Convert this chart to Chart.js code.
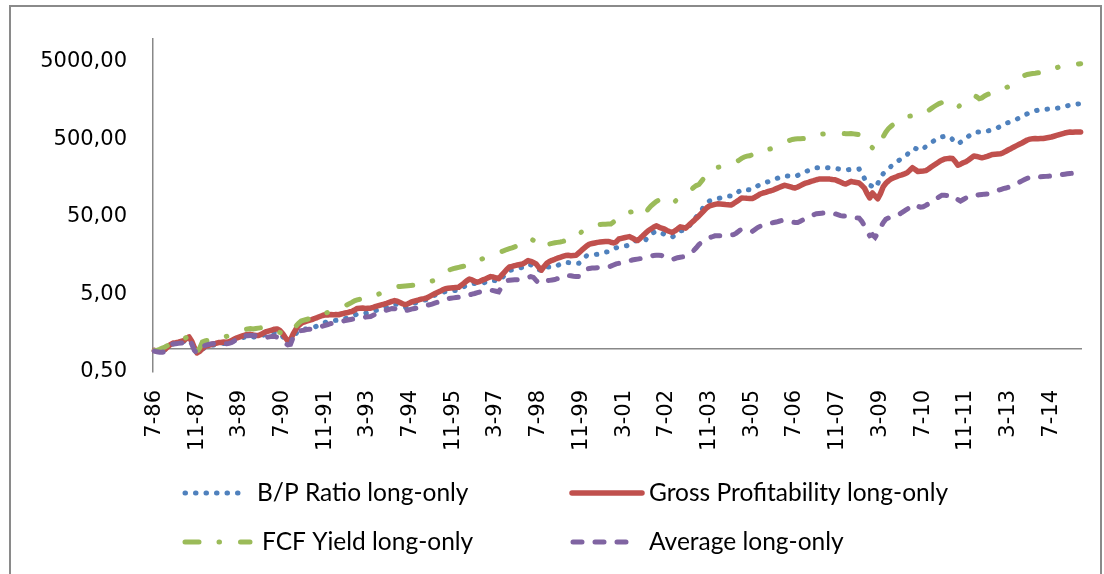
<!DOCTYPE html>
<html>
<head>
<meta charset="utf-8">
<script src="https://cdn.jsdelivr.net/npm/chart.js@4.4.1/dist/chart.umd.min.js"></script>
<style>
  html, body { margin: 0; padding: 0; background: #fff; }
</style>
</head>
<body>
<canvas id="chart" width="1104" height="574"></canvas>
<script>
// Monthly growth of 1, Jul 1986 - Jun 2015 (one row = Jul..Jun)
const startYear = 1986;
const startMonth = 7;
const monthCount = 348;

const tickLabels = ['7-86', '11-87', '3-89', '7-90', '11-91', '3-93', '7-94', '11-95', '3-97', '7-98', '11-99',
  '3-01', '7-02', '11-03', '3-05', '7-06', '11-07', '3-09', '7-10', '11-11', '3-13', '7-14'];
const yTicks = [0.5, 1, 5, 50, 500, 5000];

const bpRatio = [
  0.95, 0.93, 0.93, 0.95, 0.97, 1.03, 1.10, 1.15, 1.16, 1.18, 1.21, 1.24,
  1.31, 1.37, 1.22, 1.02, 0.88, 0.91, 0.98, 1.04, 1.07, 1.09, 1.11, 1.13,
  1.15, 1.16, 1.17, 1.16, 1.18, 1.22, 1.27, 1.31, 1.35, 1.38, 1.42, 1.44,
  1.45, 1.42, 1.40, 1.40, 1.44, 1.50, 1.55, 1.58, 1.60, 1.62, 1.63, 1.56,
  1.44, 1.30, 1.20, 1.22, 1.40, 1.56, 1.68, 1.74, 1.78, 1.80, 1.82, 1.85,
  1.90, 1.96, 2.02, 2.10, 2.18, 2.24, 2.30, 2.30, 2.32, 2.33, 2.38, 2.43,
  2.48, 2.55, 2.62, 2.70, 2.80, 2.84, 2.88, 2.86, 2.90, 2.94, 3.02, 3.12,
  3.20, 3.28, 3.36, 3.45, 3.56, 3.68, 3.78, 3.72, 3.60, 3.48, 3.38, 3.50,
  3.65, 3.80, 3.92, 4.02, 4.12, 4.20, 4.30, 4.48, 4.68, 4.88, 5.06, 5.25,
  5.30, 5.45, 5.50, 5.55, 5.60, 5.65, 5.70, 6.00, 6.30, 6.60, 6.80, 6.90,
  6.95, 7.00, 6.90, 7.00, 7.20, 7.40, 7.60, 7.60, 7.50, 7.40, 8.00, 8.70,
  9.50, 10.2, 10.4, 10.6, 10.8, 11.0, 11.2, 11.7, 12.3, 12.1, 11.7, 11.3,
  10.5, 10.0, 10.8, 11.3, 11.3, 11.3, 11.3, 11.8, 12.3, 12.7, 13.0, 12.9,
  12.8, 12.7, 12.6, 12.6, 13.6, 14.8, 15.9, 16.1, 16.3, 16.4, 16.5, 16.8,
  17.2, 17.6, 17.8, 18.5, 19.3, 20.0, 20.4, 20.8, 21.1, 21.3, 22.0, 23.5,
  24.5, 24.8, 25.0, 25.1, 25.2, 27.5, 29.5, 31.5, 33.0, 32.0, 31.0, 30.0,
  29.0, 28.0, 27.5, 29.0, 31.0, 33.0, 33.5, 34.0, 37.0, 40.5, 45.0, 50.0,
  55, 61, 70, 77, 80.5, 82, 84, 86, 88, 90, 92, 93,
  93, 94, 100, 107, 113, 114, 113, 112, 113, 119, 126, 132,
  135, 139, 143, 147, 151, 156, 161, 166, 170, 169, 168, 167,
  166, 172, 179, 186, 193, 198, 204, 210, 216, 216, 216, 216,
  216, 215, 213, 211, 209, 207, 206, 205, 204, 205, 206, 207,
  208, 185, 157, 140, 129, 124, 118, 135, 160, 180, 196, 211,
  225, 240, 256, 270, 285, 300, 320, 345, 375, 385, 370, 360,
  380, 405, 430, 455, 480, 505, 530, 540, 548, 553, 540, 500,
  460, 437, 460, 490, 527, 550, 580, 605, 623, 623, 623, 630,
  640, 655, 670, 685, 710, 740, 770, 805, 830, 855, 880, 910,
  950, 990, 1030, 1070, 1100, 1140, 1170, 1195, 1205, 1215, 1225, 1235,
  1245, 1255, 1265, 1275, 1300, 1330, 1360, 1385, 1400, 1420, 1435, 1450
];

const grossProfitability = [
  0.95, 0.93, 0.94, 0.96, 0.98, 1.05, 1.13, 1.18, 1.19, 1.21, 1.24, 1.27,
  1.35, 1.42, 1.25, 1.03, 0.88, 0.92, 1.00, 1.07, 1.10, 1.12, 1.15, 1.17,
  1.20, 1.20, 1.22, 1.21, 1.23, 1.28, 1.33, 1.38, 1.42, 1.46, 1.50, 1.52,
  1.53, 1.50, 1.48, 1.48, 1.53, 1.60, 1.66, 1.70, 1.74, 1.78, 1.80, 1.72,
  1.58, 1.40, 1.26, 1.30, 1.55, 1.77, 1.98, 2.12, 2.20, 2.27, 2.32, 2.37,
  2.45, 2.52, 2.60, 2.68, 2.74, 2.72, 2.75, 2.73, 2.76, 2.74, 2.80, 2.86,
  2.90, 2.97, 3.02, 3.15, 3.30, 3.33, 3.35, 3.30, 3.32, 3.33, 3.42, 3.52,
  3.60, 3.68, 3.76, 3.85, 3.96, 4.08, 4.17, 4.10, 3.95, 3.80, 3.68, 3.80,
  3.95, 4.08, 4.17, 4.25, 4.35, 4.42, 4.50, 4.70, 4.90, 5.10, 5.30, 5.50,
  5.75, 5.94, 6.00, 6.05, 6.10, 6.15, 6.20, 6.60, 7.00, 7.50, 7.90, 7.70,
  7.40, 7.20, 7.40, 7.70, 7.90, 8.20, 8.50, 8.40, 8.20, 8.00, 8.80, 9.60,
  10.5, 11.3, 11.5, 11.8, 12.0, 12.2, 12.4, 13.0, 13.7, 13.4, 12.9, 12.4,
  11.2, 10.3, 11.5, 12.6, 13.3, 13.8, 14.2, 14.7, 15.1, 15.5, 15.9, 16.0,
  15.8, 15.9, 16.0, 17.2, 18.5, 19.8, 21.2, 22.3, 22.7, 23.1, 23.5, 23.7,
  23.9, 24.1, 24.2, 23.6, 23.1, 23.8, 26.0, 26.5, 27.0, 27.5, 27.9, 26.8,
  25.6, 24.8, 26.5, 28.6, 31.0, 33.2, 35.0, 36.8, 38.4, 37.0, 35.8, 35.0,
  33.5, 32.5, 31.6, 33.0, 35.0, 37.3, 36.6, 35.9, 38.5, 41.5, 44.5, 48.0,
  51.5, 56, 61, 66, 69.5, 71, 72.5, 73.9, 73.5, 73, 72.3, 71.8,
  71.1, 74.5, 78.5, 83, 88, 87.5, 87, 86.8, 86.5, 90, 94.5, 99,
  102, 104, 107, 109, 112, 116, 120, 124, 128, 126, 123, 120,
  118, 122, 127, 132, 137, 140, 144, 147, 151, 154, 155, 154,
  155, 154, 152, 151, 146, 141, 136, 133, 138, 144, 141, 139,
  137, 128, 118, 100, 88, 102, 93, 86, 100, 122, 136, 146,
  155, 160, 165, 171, 175, 180, 186, 200, 216, 205, 193, 195,
  196, 198, 208, 220, 232, 245, 258, 270, 280, 283, 286, 284,
  260, 232, 240, 250, 258, 272, 288, 305, 302, 296, 290, 296,
  303, 312, 320, 322, 324, 326, 338, 352, 368, 383, 400, 416,
  433, 450, 470, 492, 505, 510, 514, 512, 514, 515, 522, 530,
  538, 550, 563, 577, 591, 605, 615, 623, 620, 625, 622, 625
];

const fcfYield = [
  0.95, 0.95, 0.98, 1.02, 1.05, 1.10, 1.14, 1.18, 1.20, 1.24, 1.28, 1.33,
  1.40, 1.38, 1.20, 0.98, 0.92, 1.02, 1.22, 1.26, 1.28, 1.30, 1.30, 1.32,
  1.34, 1.36, 1.40, 1.44, 1.48, 1.52, 1.56, 1.60, 1.65, 1.70, 1.76, 1.80,
  1.82, 1.80, 1.82, 1.84, 1.86, 1.83, 1.80, 1.77, 1.75, 1.72, 1.68, 1.62,
  1.56, 1.52, 1.50, 1.55, 1.75, 1.95, 2.12, 2.27, 2.33, 2.38, 2.43, 2.48,
  2.52, 2.56, 2.60, 2.70, 2.85, 2.95, 3.05, 3.12, 3.20, 3.25, 3.35, 3.50,
  3.65, 3.80, 3.95, 4.15, 4.25, 4.35, 4.45, 4.55, 4.65, 4.75, 4.82, 4.90,
  5.05, 5.25, 5.45, 5.65, 5.85, 6.05, 6.20, 6.30, 6.35, 6.40, 6.45, 6.50,
  6.55, 6.60, 6.60, 6.75, 6.90, 7.05, 7.20, 7.35, 7.45, 7.60, 8.10, 8.80,
  9.40, 9.90, 10.2, 10.5, 10.8, 11.0, 11.2, 11.4, 11.6, 11.8, 11.9, 12.5,
  13.0, 13.5, 14.0, 14.5, 15.0, 15.3, 15.8, 16.3, 16.8, 17.4, 17.9, 18.4,
  19.0, 19.5, 20.0, 20.6, 21.2, 21.6, 22.0, 22.5, 24.5, 26.0, 25.0, 22.5,
  20.5, 20.0, 21.0, 21.8, 22.4, 22.8, 23.2, 23.5, 23.8, 24.2, 24.8, 25.4,
  25.8, 26.3, 28.0, 30.0, 32.0, 34.0, 36.5, 38.4, 39.0, 39.5, 39.8, 40.0,
  40.2, 40.4, 40.5, 40.6, 43.0, 46.0, 49.0, 51.5, 54.0, 56.0, 57.5, 58.5,
  59.6, 57.0, 53.0, 51.5, 57.0, 63.0, 69.0, 74.0, 79.0, 83.0, 85.0, 84.0,
  80.0, 76.0, 74.0, 79.0, 85.0, 88.0, 93.0, 99.0, 105, 112, 120, 127,
  131, 145, 160, 175, 190, 202, 212, 218, 222, 226, 229, 232,
  236, 240, 255, 270, 285, 297, 305, 308, 318, 330, 343, 355,
  362, 368, 372, 380, 392, 405, 420, 437, 455, 472, 487, 500,
  506, 510, 512, 513, 514, 525, 540, 555, 568, 578, 585, 589,
  591, 595, 598, 600, 600, 598, 596, 594, 591, 598, 590, 582,
  575, 565, 540, 480, 420, 390, 360, 380, 455, 540, 620, 690,
  740, 790, 840, 880, 920, 960, 985, 1000, 1010, 995, 980, 1040,
  1080, 1120, 1180, 1250, 1320, 1390, 1450, 1500, 1520, 1530, 1520, 1480,
  1380, 1300, 1400, 1520, 1640, 1760, 1840, 1860, 1780, 1680, 1720, 1820,
  1900, 1950, 1980, 2050, 2120, 2200, 2260, 2330, 2400, 2520, 2700, 2900,
  3050, 3200, 3350, 3450, 3500, 3550, 3580, 3620, 3650, 3700, 3750, 3850,
  3950, 4050, 4200, 4350, 4500, 4600, 4650, 4700, 4700, 4750, 4700, 4750
];

const averageLongOnly = [
  0.93, 0.91, 0.90, 0.90, 0.92, 1.02, 1.12, 1.15, 1.16, 1.17, 1.18, 1.20,
  1.26, 1.32, 1.15, 0.95, 0.88, 0.95, 1.05, 1.10, 1.13, 1.15, 1.16, 1.17,
  1.15, 1.14, 1.15, 1.16, 1.17, 1.20, 1.26, 1.36, 1.44, 1.46, 1.47, 1.47,
  1.48, 1.48, 1.46, 1.43, 1.40, 1.38, 1.40, 1.42, 1.44, 1.45, 1.40, 1.30,
  1.25, 1.18, 1.12, 1.14, 1.40, 1.60, 1.68, 1.71, 1.73, 1.76, 1.78, 1.80,
  1.82, 1.85, 1.90, 1.95, 2.00, 2.05, 2.10, 2.14, 2.18, 2.22, 2.25, 2.28,
  2.32, 2.36, 2.40, 2.43, 2.47, 2.50, 2.53, 2.55, 2.58, 2.60, 2.70, 2.80,
  2.90, 2.98, 3.06, 3.14, 3.22, 3.30, 3.28, 3.20, 3.05, 3.00, 3.08, 3.15,
  3.22, 3.28, 3.33, 3.36, 3.45, 3.55, 3.62, 3.68, 3.76, 3.86, 3.96, 4.05,
  4.10, 4.25, 4.40, 4.48, 4.52, 4.56, 4.60, 4.64, 4.68, 4.80, 4.93, 5.05,
  5.15, 5.28, 5.40, 5.50, 5.60, 5.68, 5.70, 5.60, 5.50, 5.40, 6.20, 7.00,
  7.50, 7.65, 7.70, 7.72, 7.75, 7.78, 7.90, 8.10, 8.30, 8.50, 8.30, 7.60,
  7.00, 6.90, 7.20, 7.50, 7.60, 7.70, 7.80, 8.00, 8.30, 8.60, 8.85, 8.80,
  8.70, 8.60, 8.55, 8.50, 9.20, 10.0, 10.6, 10.85, 10.95, 11.0, 11.1, 11.2,
  11.25, 11.3, 11.3, 11.6, 12.0, 12.4, 12.6, 12.8, 13.0, 13.3, 13.6, 13.9,
  14.1, 14.3, 14.5, 14.8, 15.1, 15.4, 15.7, 15.9, 16.0, 16.0, 15.9, 15.5,
  15.0, 14.5, 14.1, 14.5, 14.9, 15.1, 15.3, 16.0, 16.8, 17.6, 18.4, 20.0,
  22.0, 23.6, 25.0, 26.0, 27.0, 27.8, 28.6, 28.7, 28.7, 28.6, 28.8, 29.2,
  29.4, 29.6, 31.0, 33.0, 35.0, 34.0, 33.3, 32.8, 32.5, 34.5, 36.5, 38.0,
  38.4, 39.5, 40.5, 41.5, 42.5, 43.0, 44.0, 45.0, 45.0, 44.5, 44.0, 43.0,
  42.5, 42.5, 44.0, 46.0, 48.5, 50.5, 52.0, 53.5, 55.0, 55.5, 56.0, 56.5,
  57.0, 57.0, 56.5, 55.0, 53.5, 52.0, 51.5, 51.5, 51.5, 50.5, 49.5, 48.8,
  48.2, 44.0, 38.4, 32.0, 28.6, 29.5, 27.3, 31.0, 36.5, 42.0, 46.7, 48.5,
  50.5, 52.0, 53.0, 54.0, 57.0, 60.0, 63.0, 66.5, 70.0, 72.7, 69.0, 67.0,
  67.6, 70.5, 74.0, 78.0, 81.5, 86.0, 91.0, 95.4, 95.0, 94.5, 94.0, 93.5,
  92.6, 84.0, 80.0, 84.0, 88.0, 92.6, 94.0, 95.0, 95.4, 96.5, 97.5, 98.5,
  99.0, 101, 104, 107, 110, 113, 116, 118, 121, 125, 130, 134,
  140, 146, 152, 158, 162, 165, 166, 168, 165, 166, 167, 168,
  169, 170, 172, 174, 176, 178, 180, 182, 183, 184, 185, 186
];

// category labels like "7-86"
const months = [];
for (let k = 0; k < monthCount; k++) {
  const m = (startMonth - 1 + k) % 12 + 1;
  const y = startYear + Math.floor((startMonth - 1 + k) / 12);
  months.push(m + '-' + String(y % 100).padStart(2, '0'));
}

const axisFont = { family: "'DejaVu Sans', sans-serif", size: 21 };

// legend slots under the plot, two columns like the spreadsheet
const legendSlots = [
  { ds: 0, x0: 185, x1: 247, tx: 257, y: 493 },
  { ds: 1, x0: 572, x1: 642, tx: 649, y: 493 },
  { ds: 2, x0: 185, x1: 250, tx: 262, y: 542 },
  { ds: 3, x0: 573, x1: 633, tx: 649, y: 542 }
];

const sheetLegend = {
  id: 'sheetLegend',
  afterDraw(chart) {
    const ctx = chart.ctx;
    legendSlots.forEach(slot => {
      const ds = chart.data.datasets[slot.ds];
      ctx.save();
      ctx.strokeStyle = ds.borderColor;
      ctx.lineWidth = ds.borderWidth;
      ctx.lineCap = ds.borderCapStyle;
      ctx.setLineDash(ds.borderDash || []);
      ctx.beginPath();
      ctx.moveTo(slot.x0, slot.y);
      ctx.lineTo(slot.x1, slot.y);
      ctx.stroke();
      ctx.setLineDash([]);
      ctx.fillStyle = '#000';
      ctx.font = '24.5px Lato';
      ctx.textBaseline = 'middle';
      ctx.fillText(ds.label, slot.tx, slot.y);
      ctx.restore();
    });
  }
};

const frame = {
  id: 'frame',
  beforeDraw(chart) {
    const ctx = chart.ctx;
    ctx.save();
    ctx.fillStyle = '#fff';
    ctx.fillRect(0, 0, chart.width, chart.height);
    ctx.strokeStyle = '#8a8a8a';
    ctx.lineWidth = 2;
    ctx.strokeRect(10, 6, 1091, 600);
    ctx.restore();
  }
};

new Chart(document.getElementById('chart'), {
  type: 'line',
  data: {
    labels: months,
    datasets: [
      { label: 'B/P Ratio long-only', data: bpRatio, borderColor: '#4F81BD', borderWidth: 5,
        borderDash: [0.5, 10], borderCapStyle: 'round', order: 3 },
      { label: 'Gross Profitability long-only', data: grossProfitability, borderColor: '#C0504D', borderWidth: 5.5,
        borderCapStyle: 'round', borderJoinStyle: 'round', order: 2 },
      { label: 'FCF Yield long-only', data: fcfYield, borderColor: '#9BBB59', borderWidth: 5,
        borderDash: [14, 20, 0.5, 21], borderCapStyle: 'round', order: 1 },
      { label: 'Average long-only', data: averageLongOnly, borderColor: '#8064A2', borderWidth: 5,
        borderDash: [9, 13], borderCapStyle: 'round', order: 0 }
    ]
  },
  options: {
    responsive: false,
    animation: false,
    layout: { padding: { top: 36, right: 22, bottom: 0, left: 0 } },
    elements: { point: { radius: 0 }, line: { tension: 0, fill: false } },
    plugins: { legend: { display: false }, tooltip: { enabled: false } },
    scales: {
      x: {
        type: 'category',
        offset: true,
        afterFit: s => { s.height = 202; },
        grid: { display: false, drawTicks: false },
        border: { display: false },
        ticks: {
          autoSkip: false,
          minRotation: 90,
          maxRotation: 90,
          padding: 18,
          color: '#000',
          font: axisFont,
          callback: function (v) {
            const l = this.getLabelForValue(v);
            return tickLabels.includes(l) ? l : null;
          }
        }
      },
      y: {
        type: 'logarithmic',
        min: 0.5,
        max: 10000,
        afterBuildTicks: s => { s.ticks = yTicks.map(v => ({ value: v })); },
        afterFit: s => { s.width = 153; },
        grid: {
          drawTicks: false,
          lineWidth: 1.5,
          color: c => (c.tick && c.tick.value === 1 ? '#888' : 'rgba(0,0,0,0)')
        },
        border: { display: true, color: '#888', width: 1.5 },
        ticks: {
          padding: 26,
          color: '#000',
          font: axisFont,
          callback: v => (v === 1 ? '' : v.toFixed(2).replace('.', ','))
        }
      }
    }
  },
  plugins: [frame, sheetLegend]
});
</script>
</body>
</html>
